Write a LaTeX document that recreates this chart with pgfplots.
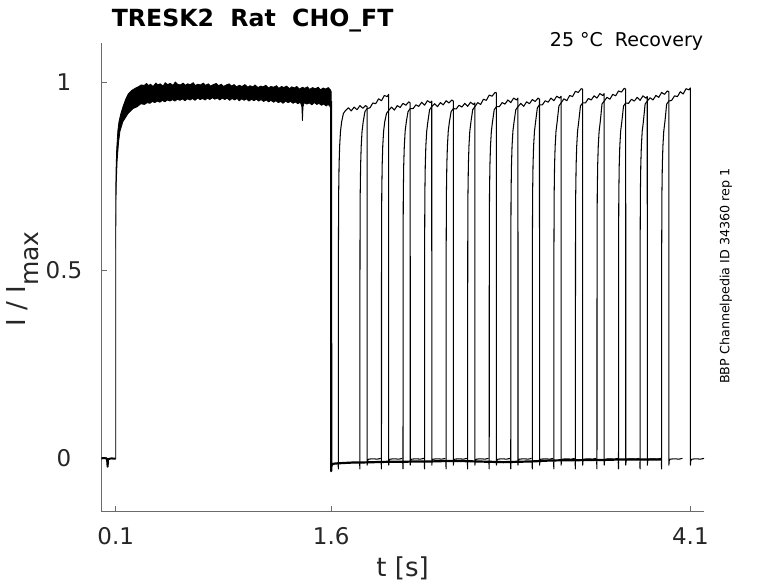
\documentclass[border=0pt]{standalone}
\usepackage{fontspec}
\setmainfont{DejaVu Sans}
\usepackage{pgfplots}
\pgfplotsset{compat=1.18}
\begin{document}
\begin{tikzpicture}
\useasboundingbox (-101.3bp,-71.3bp) rectangle (676.7bp,511.7bp);
\begin{axis}[
  at={(0,0)}, anchor=south west,
  scale only axis, width=602.7bp, height=468.4bp,
  xmin=0, xmax=4.195, ymin=-0.144, ymax=1.104,
  axis x line*=bottom, axis y line*=left,
  axis line style={black!58, line width=0.8bp},
  tick align=inside, major tick length=6bp,
  tick style={black!58, line width=0.8bp},
  xtick={0.1,1.6,4.1}, xticklabels={0.1,1.6,4.1},
  ytick={0,0.5,1}, yticklabels={0,0.5,1},
  ticklabel style={font=\fontsize{23bp}{23bp}\selectfont, text=black!85},
  xticklabel style={anchor=base, yshift=-32.3bp, inner sep=0pt},
  yticklabel style={anchor=center, xshift=-37.3bp},
]
% pre-step baseline
\addplot[black, line width=2bp] coordinates {(0,-0.002) (0.02,-0.001) (0.04,-0.003) (0.044,-0.024) (0.047,-0.004) (0.07,-0.002) (0.1,-0.003)};
% prepulse band (envelope of all sweeps)
\addplot[fill=black, draw=black, line width=0.8bp] coordinates {
(0.100,-0.003) (0.1003,0.60) (0.101,0.72) (0.103,0.77) (0.107,0.82) (0.115,0.87) (0.123,0.895) (0.135,0.915) (0.151,0.935) (0.17,0.955) (0.186,0.968) (0.21,0.978) (0.24,0.985) (0.262,0.989) (0.277,0.993)
(0.30,0.992) (0.315,0.997) (0.33,0.991) (0.342,0.995) (0.36,0.989) (0.38,0.998) (0.392,0.993) (0.41,0.996) (0.43,0.990) (0.445,0.999) (0.46,0.994) (0.48,0.997) (0.50,0.992) (0.515,1.001) (0.53,0.995) (0.55,0.993) (0.57,0.998) (0.585,0.992) (0.60,0.996) (0.62,0.994) (0.64,0.999) (0.655,0.991) (0.67,0.995) (0.69,0.993) (0.71,0.998) (0.725,0.992) (0.745,0.996) (0.76,0.990) (0.78,0.994) (0.80,0.997) (0.815,0.991) (0.835,0.995) (0.85,0.989) (0.87,0.993) (0.89,0.996) (0.905,0.990) (0.925,0.994) (0.94,0.988) (0.96,0.992) (0.98,0.989) (1.00,0.994) (1.02,0.987) (1.035,0.991) (1.055,0.988) (1.07,0.993) (1.09,0.986) (1.11,0.990) (1.125,0.988) (1.145,0.992) (1.165,0.985) (1.18,0.989) (1.20,0.987) (1.22,0.991) (1.235,0.984) (1.255,0.989) (1.27,0.986) (1.29,0.990) (1.31,0.983) (1.325,0.988) (1.345,0.985) (1.36,0.989) (1.38,0.982) (1.40,0.987) (1.415,0.984) (1.435,0.988) (1.45,0.981) (1.47,0.986) (1.49,0.983) (1.51,0.987) (1.525,0.980) (1.545,0.985) (1.56,0.982) (1.58,0.986) (1.595,0.980) (1.60,0.975)
(1.60,0.925) (1.592,0.936) (1.578,0.941) (1.565,0.937) (1.55,0.942) (1.532,0.939) (1.515,0.944) (1.50,0.941) (1.483,0.946) (1.465,0.940) (1.45,0.945) (1.43,0.942) (1.412,0.946) (1.404,0.935) (1.40,0.898) (1.396,0.936) (1.385,0.947) (1.368,0.943) (1.35,0.948) (1.335,0.944) (1.318,0.949) (1.30,0.946) (1.282,0.950) (1.265,0.944) (1.25,0.949) (1.232,0.946) (1.215,0.951) (1.20,0.947) (1.18,0.952) (1.165,0.948) (1.148,0.953) (1.13,0.949) (1.112,0.954) (1.095,0.950) (1.08,0.955) (1.062,0.951) (1.045,0.955) (1.028,0.950) (1.01,0.956) (0.995,0.952) (0.978,0.956) (0.96,0.951) (0.945,0.957) (0.928,0.953) (0.91,0.957) (0.893,0.952) (0.875,0.958) (0.86,0.954) (0.842,0.958) (0.825,0.953) (0.808,0.958) (0.79,0.955) (0.772,0.959) (0.755,0.954) (0.74,0.958) (0.722,0.953) (0.705,0.957) (0.688,0.954) (0.67,0.958) (0.652,0.952) (0.635,0.957) (0.618,0.953) (0.60,0.956) (0.582,0.951) (0.565,0.956) (0.548,0.952) (0.53,0.955) (0.512,0.950) (0.495,0.954) (0.478,0.950) (0.46,0.953) (0.442,0.948) (0.425,0.952) (0.408,0.947) (0.39,0.950) (0.372,0.946) (0.355,0.949) (0.338,0.944) (0.32,0.946) (0.30,0.941) (0.275,0.943) (0.25,0.935) (0.22,0.930) (0.186,0.917) (0.15,0.895) (0.13,0.87) (0.12,0.84) (0.11,0.79) (0.105,0.74) (0.102,0.68) (0.1005,0.55) (0.100,-0.003)};
% deactivation and common baseline
\addplot[black, line width=2.2bp] coordinates {(1.5995,0.95) (1.600,-0.036) (1.6015,-0.024) (1.605,-0.018) (1.62,-0.016) (1.65,-0.015) (1.70,-0.014) (1.75,-0.013) (1.80,-0.013) (1.90,-0.012) (2.00,-0.011) (2.10,-0.011) (2.20,-0.010) (2.30,-0.010) (2.40,-0.009) (2.50,-0.009) (2.60,-0.010) (2.70,-0.011) (2.80,-0.012) (2.90,-0.011) (3.00,-0.010) (3.10,-0.008) (3.20,-0.007) (3.30,-0.007) (3.40,-0.006) (3.50,-0.006) (3.60,-0.005) (3.70,-0.005) (3.80,-0.005) (3.90,-0.005)};
% test pulses
\pgfplotsset{every axis plot/.append style={line join=round}}
\addplot[black, line width=1.05bp] coordinates {(1.648,-0.012) (1.65,-0.03) (1.6505,0.55) (1.652,0.70) (1.655,0.78) (1.659,0.83) (1.665,0.87) (1.673,0.895) (1.685,0.917) (1.70,0.925) (1.72,0.932) (1.74,0.924) (1.76,0.934) (1.78,0.927) (1.80,0.938) (1.82,0.931) (1.84,0.938) (1.85,0.935) (1.8505,-0.02) (1.853,-0.008) (1.86,-0.004) (1.89,-0.003) (1.92,-0.004) (1.945,-0.002)};
\addplot[black, line width=1.05bp] coordinates {(1.798,-0.012) (1.80,-0.03) (1.8005,0.55) (1.802,0.70) (1.805,0.78) (1.809,0.83) (1.815,0.87) (1.823,0.895) (1.835,0.922) (1.85,0.930) (1.87,0.932) (1.89,0.945) (1.91,0.943) (1.93,0.956) (1.95,0.951) (1.97,0.965) (1.99,0.962) (2.00,0.968) (2.0005,-0.02) (2.003,-0.008) (2.01,-0.004) (2.04,-0.003) (2.07,-0.004) (2.095,-0.002)};
\addplot[black, line width=1.05bp] coordinates {(1.948,-0.012) (1.95,-0.03) (1.9505,0.55) (1.952,0.70) (1.955,0.78) (1.959,0.83) (1.965,0.87) (1.973,0.895) (1.985,0.917) (2.00,0.925) (2.02,0.934) (2.04,0.926) (2.06,0.938) (2.08,0.933) (2.10,0.944) (2.12,0.939) (2.14,0.948) (2.15,0.945) (2.1505,-0.02) (2.153,-0.008) (2.16,-0.004) (2.19,-0.003) (2.22,-0.004) (2.245,-0.002)};
\addplot[black, line width=1.05bp] coordinates {(2.098,-0.012) (2.10,-0.03) (2.1005,0.55) (2.102,0.70) (2.105,0.78) (2.109,0.83) (2.115,0.87) (2.123,0.895) (2.135,0.922) (2.15,0.930) (2.17,0.930) (2.19,0.940) (2.21,0.936) (2.23,0.947) (2.25,0.939) (2.27,0.951) (2.29,0.946) (2.30,0.950) (2.3005,-0.02) (2.303,-0.008) (2.31,-0.004) (2.34,-0.003) (2.37,-0.004) (2.395,-0.002)};
\addplot[black, line width=1.05bp] coordinates {(2.248,-0.012) (2.25,-0.03) (2.2505,0.55) (2.252,0.70) (2.255,0.78) (2.259,0.83) (2.265,0.87) (2.273,0.895) (2.285,0.927) (2.30,0.935) (2.32,0.943) (2.34,0.935) (2.36,0.946) (2.38,0.940) (2.40,0.951) (2.42,0.945) (2.44,0.953) (2.45,0.950) (2.4505,-0.02) (2.453,-0.008) (2.46,-0.004) (2.49,-0.003) (2.52,-0.004) (2.545,-0.002)};
\addplot[black, line width=1.05bp] coordinates {(2.398,-0.012) (2.40,-0.03) (2.4005,0.55) (2.402,0.70) (2.405,0.78) (2.409,0.83) (2.415,0.87) (2.423,0.895) (2.435,0.922) (2.45,0.930) (2.47,0.929) (2.49,0.939) (2.51,0.934) (2.53,0.944) (2.55,0.936) (2.57,0.947) (2.59,0.941) (2.60,0.945) (2.6005,-0.02) (2.603,-0.008) (2.61,-0.004) (2.64,-0.003) (2.67,-0.004) (2.695,-0.002)};
\addplot[black, line width=1.05bp] coordinates {(2.548,-0.012) (2.55,-0.03) (2.5505,0.55) (2.552,0.70) (2.555,0.78) (2.559,0.83) (2.565,0.87) (2.573,0.895) (2.585,0.927) (2.60,0.935) (2.62,0.946) (2.64,0.941) (2.66,0.955) (2.68,0.952) (2.70,0.966) (2.72,0.963) (2.74,0.973) (2.75,0.972) (2.7505,-0.02) (2.753,-0.008) (2.76,-0.004) (2.79,-0.003) (2.82,-0.004) (2.845,-0.002)};
\addplot[black, line width=1.05bp] coordinates {(2.698,-0.012) (2.70,-0.03) (2.7005,0.55) (2.702,0.70) (2.705,0.78) (2.709,0.83) (2.715,0.87) (2.723,0.895) (2.735,0.927) (2.75,0.935) (2.77,0.935) (2.79,0.946) (2.81,0.942) (2.83,0.953) (2.85,0.946) (2.87,0.958) (2.89,0.953) (2.90,0.958) (2.9005,-0.02) (2.903,-0.008) (2.91,-0.004) (2.94,-0.003) (2.97,-0.004) (2.995,-0.002)};
\addplot[black, line width=1.05bp] coordinates {(2.848,-0.012) (2.85,-0.03) (2.8505,0.55) (2.852,0.70) (2.855,0.78) (2.859,0.83) (2.865,0.87) (2.873,0.895) (2.885,0.927) (2.90,0.935) (2.92,0.944) (2.94,0.936) (2.96,0.948) (2.98,0.943) (3.00,0.954) (3.02,0.949) (3.04,0.958) (3.05,0.955) (3.0505,-0.02) (3.053,-0.008) (3.06,-0.004) (3.09,-0.003) (3.12,-0.004) (3.145,-0.002)};
\addplot[black, line width=1.05bp] coordinates {(2.998,-0.012) (3.00,-0.03) (3.0005,0.55) (3.002,0.70) (3.005,0.78) (3.009,0.83) (3.015,0.87) (3.023,0.895) (3.035,0.932) (3.05,0.940) (3.07,0.940) (3.09,0.951) (3.11,0.947) (3.13,0.958) (3.15,0.951) (3.17,0.963) (3.19,0.958) (3.20,0.963) (3.2005,-0.02) (3.203,-0.008) (3.21,-0.004) (3.24,-0.003) (3.27,-0.004) (3.295,-0.002)};
\addplot[black, line width=1.05bp] coordinates {(3.148,-0.012) (3.15,-0.03) (3.1505,0.55) (3.152,0.70) (3.155,0.78) (3.159,0.83) (3.165,0.87) (3.173,0.895) (3.185,0.937) (3.20,0.945) (3.22,0.956) (3.24,0.951) (3.26,0.965) (3.28,0.962) (3.30,0.976) (3.32,0.973) (3.34,0.983) (3.35,0.982) (3.3505,-0.02) (3.353,-0.008) (3.36,-0.004) (3.39,-0.003) (3.42,-0.004) (3.445,-0.002)};
\addplot[black, line width=1.05bp] coordinates {(3.298,-0.012) (3.30,-0.03) (3.3005,0.55) (3.302,0.70) (3.305,0.78) (3.309,0.83) (3.315,0.87) (3.323,0.895) (3.335,0.937) (3.35,0.945) (3.37,0.945) (3.39,0.957) (3.41,0.953) (3.43,0.964) (3.45,0.958) (3.47,0.970) (3.49,0.965) (3.50,0.970) (3.5005,-0.02) (3.503,-0.008) (3.51,-0.004) (3.54,-0.003) (3.57,-0.004) (3.595,-0.002)};
\addplot[black, line width=1.05bp] coordinates {(3.448,-0.012) (3.45,-0.03) (3.4505,0.55) (3.452,0.70) (3.455,0.78) (3.459,0.83) (3.465,0.87) (3.473,0.895) (3.485,0.942) (3.50,0.950) (3.52,0.960) (3.54,0.955) (3.56,0.968) (3.58,0.964) (3.60,0.977) (3.62,0.974) (3.64,0.984) (3.65,0.982) (3.6505,-0.02) (3.653,-0.008) (3.66,-0.004) (3.69,-0.003) (3.72,-0.004) (3.745,-0.002)};
\addplot[black, line width=1.05bp] coordinates {(3.598,-0.012) (3.60,-0.03) (3.6005,0.55) (3.602,0.70) (3.605,0.78) (3.609,0.83) (3.615,0.87) (3.623,0.895) (3.635,0.937) (3.65,0.945) (3.67,0.944) (3.69,0.955) (3.71,0.950) (3.73,0.960) (3.75,0.952) (3.77,0.964) (3.79,0.958) (3.80,0.962) (3.8005,-0.02) (3.803,-0.008) (3.81,-0.004) (3.84,-0.003) (3.87,-0.004) (3.895,-0.002)};
\addplot[black, line width=1.05bp] coordinates {(3.748,-0.012) (3.75,-0.03) (3.7505,0.55) (3.752,0.70) (3.755,0.78) (3.759,0.83) (3.765,0.87) (3.773,0.895) (3.785,0.942) (3.80,0.950) (3.82,0.959) (3.84,0.953) (3.86,0.965) (3.88,0.960) (3.90,0.973) (3.92,0.968) (3.94,0.977) (3.95,0.975) (3.9505,-0.02) (3.953,-0.008) (3.96,-0.004) (3.99,-0.003) (4.02,-0.004) (4.045,-0.002)};
\addplot[black, line width=1.05bp] coordinates {(3.898,-0.012) (3.90,-0.03) (3.9005,0.55) (3.902,0.70) (3.905,0.78) (3.909,0.83) (3.915,0.87) (3.923,0.895) (3.935,0.942) (3.95,0.950) (3.97,0.952) (3.99,0.964) (4.01,0.962) (4.03,0.975) (4.05,0.969) (4.07,0.983) (4.09,0.980) (4.10,0.985) (4.1005,-0.02) (4.103,-0.008) (4.11,-0.004) (4.14,-0.003) (4.17,-0.004) (4.195,-0.002)};
\end{axis}
\node[anchor=base west, inner sep=0pt, font=\bfseries\fontsize{23.6bp}{23.6bp}\selectfont] at (10.4bp,485bp) {TRESK2\ \ Rat\ \ CHO\_FT};
\node[anchor=base east, inner sep=0pt, font=\fontsize{19bp}{19bp}\selectfont] at (602bp,465bp) {25 °C\ \ Recovery};
\node[rotate=90, anchor=base, inner sep=0pt, font=\fontsize{12.7bp}{12.7bp}\selectfont] at (628bp,235.7bp) {BBP Channelpedia ID 34360 rep 1};
\node[rotate=90, anchor=base, inner sep=0pt, font=\fontsize{26bp}{26bp}\selectfont, text=black!85] at (-75.3bp,232.7bp) {I / I\raisebox{-13bp}{\fontsize{25bp}{25bp}\selectfont max}};
\node[anchor=base, inner sep=0pt, font=\fontsize{26bp}{26bp}\selectfont, text=black!85] at (301.3bp,-64.3bp) {t [s]};
\end{tikzpicture}
\end{document}
